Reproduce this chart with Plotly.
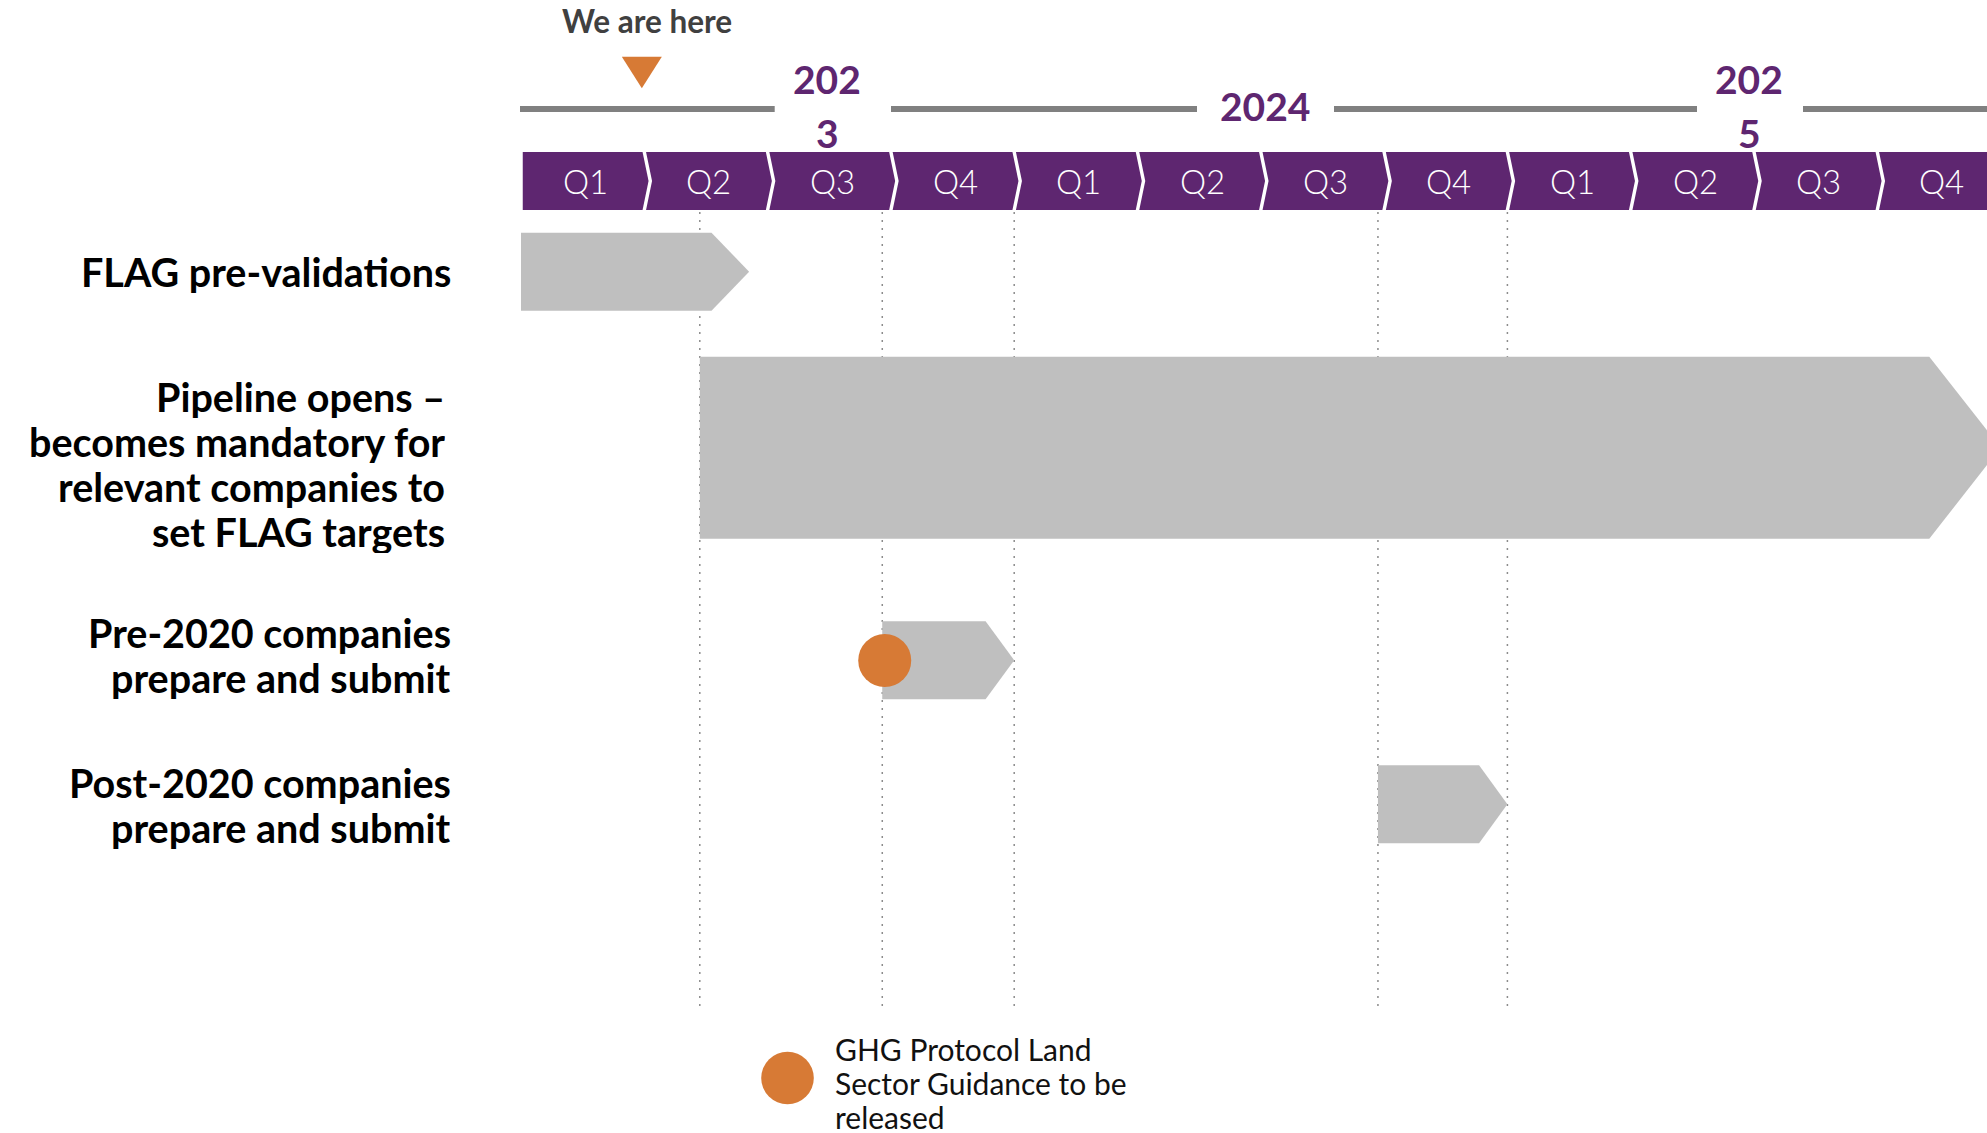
import plotly.graph_objects as go

# ---------------- data ----------------
years = ["2023", "2024", "2025"]
quarters = ["Q1", "Q2", "Q3", "Q4", "Q1", "Q2", "Q3", "Q4", "Q1", "Q2", "Q3", "Q4"]
tasks = [
    "FLAG pre-validations",
    "Pipeline opens –<br>becomes mandatory for<br>relevant companies to<br>set FLAG targets",
    "Pre-2020 companies<br>prepare and submit",
    "Post-2020 companies<br>prepare and submit",
]
# positions in quarters counted from the start of 2023 Q1
task_start = [0.0, 1.45, 2.93, 6.95]
task_end = [1.85, 12.0, 4.0, 8.0]
milestone_q = 2.95
milestone_label = "GHG Protocol Land<br>Sector Guidance to be<br>released"
now_q = 0.98
now_label = "We are here"

# ---------------- layout / style ----------------
W, H = 1987, 1133
X0_PX, Q_PX = 521.0, 123.3


def qx(px):
    return (px - X0_PX) / Q_PX


def dq(px):
    return px / Q_PX


PURPLE = "#5E2670"
ORANGE = "#D77A35"
BAR_GRAY = "#BFBFBF"
LINE_GRAY = "#808080"
DOT_GRAY = "#8C8C8C"
FONT = "Lato"

row_center = [271.7, 447.7, 660.3, 804.3]
row_height = [78, 182, 78, 78]
head_px = [37.6, 71.3, 28.6, 28.3]
label_center = [271, 464, 655, 805]
label_right_px = [453, 447, 453, 453]
label_line_gap = 45
label_size = 39.5

year_x_px = [827.3, 1265, 1749]
year_wrap = [3, 4, 3]
timeline_y = 109
timeline_segments_px = [(520, 774.7), (891, 1197), (1334, 1697), (1803, 2100)]

qbar_top, qbar_bot = 152, 210
q_gap_px, q_notch_px = 3.5, 6

fig = go.Figure()
shapes = []
annotations = []


def ann(x, y, text, size, color, weight=400, xanchor="center", xref="x", height=None):
    a = dict(
        x=x, y=y, xref=xref, yref="y", text=text, showarrow=False,
        xanchor=xanchor, yanchor="middle", align="right" if xanchor == "right" else "left",
        font=dict(family=FONT, size=size, color=color, weight=weight),
    )
    if height is not None:
        a["height"] = height
        a["valign"] = "middle"
    annotations.append(a)


# timeline line with gaps for the year labels
for a, b in timeline_segments_px:
    shapes.append(dict(type="line", xref="x", yref="y", x0=qx(a), x1=qx(b),
                       y0=timeline_y, y1=timeline_y,
                       line=dict(color=LINE_GRAY, width=6), layer="below"))

# year labels
for yr, xp, wrap in zip(years, year_x_px, year_wrap):
    if wrap < len(yr):
        ann(qx(xp), 79, yr[:wrap], 39, PURPLE, 700)
        ann(qx(xp), 133, yr[wrap:], 39, PURPLE, 700)
    else:
        ann(qx(xp), 106, yr, 39, PURPLE, 700)

# quarter chevrons
g, d = dq(q_gap_px), dq(q_notch_px)
mid = (qbar_top + qbar_bot) / 2
for k, ql in enumerate(quarters):
    L, R = k + g / 2, k + 1 - g / 2
    if k == 0:
        path = f"M{L},{qbar_top} L{R},{qbar_top} L{R + d},{mid} L{R},{qbar_bot} L{L},{qbar_bot} Z"
    else:
        path = (f"M{L},{qbar_top} L{R},{qbar_top} L{R + d},{mid} L{R},{qbar_bot} "
                f"L{L},{qbar_bot} L{L + d},{mid} Z")
    shapes.append(dict(type="path", xref="x", yref="y", path=path,
                       fillcolor=PURPLE, line=dict(width=0), layer="below"))
    ann(k + 0.5 + d / 2, 181, ql, 33, "white", 300)

# dotted guide lines at phase boundaries
guides = [task_start[1], task_start[2], task_end[2], task_start[3], task_end[3]]
for gx in guides:
    shapes.append(dict(type="line", xref="x", yref="y", x0=gx, x1=gx, y0=212, y1=1006,
                       line=dict(color=DOT_GRAY, width=1.5, dash="2px,6px"), layer="below"))

# task arrows
for s, e, yc, h, hp in zip(task_start, task_end, row_center, row_height, head_px):
    top, bot = yc - h / 2, yc + h / 2
    hq = dq(hp)
    path = f"M{s},{top} L{e - hq},{top} L{e},{yc} L{e - hq},{bot} L{s},{bot} Z"
    shapes.append(dict(type="path", xref="x", yref="y", path=path,
                       fillcolor=BAR_GRAY, line=dict(width=0), layer="below"))

# task labels (one annotation per line to keep the tight line spacing)
for txt, yc, rp in zip(tasks, label_center, label_right_px):
    lines = txt.split("<br>")
    n = len(lines)
    for i, ln in enumerate(lines):
        ann(rp / W, yc + (i - (n - 1) / 2) * label_line_gap, ln, label_size, "black", 700,
            xanchor="right", xref="paper", height=43)

# milestone marker
fig.add_trace(go.Scatter(x=[milestone_q], y=[660.5], mode="markers",
                         marker=dict(size=53, color=ORANGE, line=dict(width=0)),
                         hoverinfo="skip", showlegend=False))

# "we are here" marker
shapes.append(dict(type="path", xref="x", yref="y",
                   path=f"M{now_q - dq(20)},56.7 L{now_q + dq(20)},56.7 L{now_q},88.3 Z",
                   fillcolor=ORANGE, line=dict(width=0), layer="above"))
ann(qx(646.7), 21, now_label, 31.5, "#404040", 700)

# legend
shapes.append(dict(type="circle", xref="x", yref="y",
                   x0=qx(787.5 - 26.3), x1=qx(787.5 + 26.3), y0=1078 - 26.3, y1=1078 + 26.3,
                   fillcolor=ORANGE, line=dict(width=0), layer="above"))
for i, ln in enumerate(milestone_label.split("<br>")):
    ann(833 / W, 1048 + i * 34, ln, 30, "#111111", 400, xanchor="left", xref="paper",
        height=33)

fig.update_layout(
    width=W, height=H,
    margin=dict(l=0, r=0, t=0, b=0),
    paper_bgcolor="white", plot_bgcolor="white",
    xaxis=dict(range=[qx(0), qx(W)], visible=False, fixedrange=True),
    yaxis=dict(range=[H, 0], visible=False, fixedrange=True),
    shapes=shapes, annotations=annotations,
    showlegend=False,
)

fig.write_html("out.html", config={"displayModeBar": False},
               post_script="document.body.style.margin='0';document.body.style.overflow='hidden';")
